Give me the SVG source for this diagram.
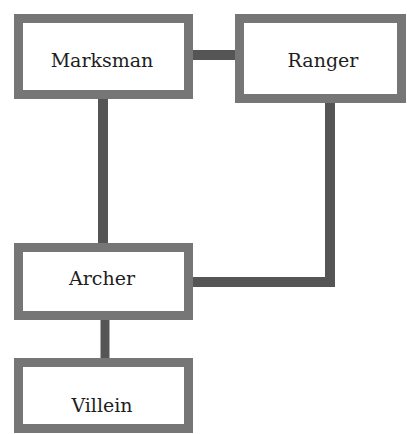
<svg xmlns="http://www.w3.org/2000/svg" width="407" height="434" viewBox="0 0 407 434">
  <style>
    .box { fill: #ffffff; stroke: #767676; stroke-width: 9; }
    .conn { fill: none; stroke: #555555; stroke-width: 10; stroke-linejoin: miter; }
    .lbl { font-family: "DejaVu Serif", "Liberation Serif", serif; font-size: 19px; fill: #1e1e1e; text-anchor: middle; }
  </style>
  <rect width="407" height="434" fill="#ffffff"/>
  <g id="connectors">
    <line class="conn" x1="193" y1="55" x2="235" y2="55"/>
    <line class="conn" x1="103" y1="99" x2="103" y2="243"/>
    <path class="conn" d="M330 103 V282 H193"/>
    <line class="conn" x1="105" y1="320" x2="105" y2="358" style="stroke-width:9"/>
  </g>
  <g id="marksman">
    <rect class="box" x="18.5" y="18.5" width="170" height="76"/>
    <text class="lbl" x="102" y="67">Marksman</text>
  </g>
  <g id="ranger">
    <rect class="box" x="239.5" y="18.5" width="162" height="80"/>
    <text class="lbl" x="323" y="67">Ranger</text>
  </g>
  <g id="archer">
    <rect class="box" x="18.5" y="247.5" width="170" height="68"/>
    <text class="lbl" x="102" y="285">Archer</text>
  </g>
  <g id="villein">
    <rect class="box" x="18.5" y="362.5" width="170" height="66"/>
    <text class="lbl" x="102" y="412">Villein</text>
  </g>
</svg>
